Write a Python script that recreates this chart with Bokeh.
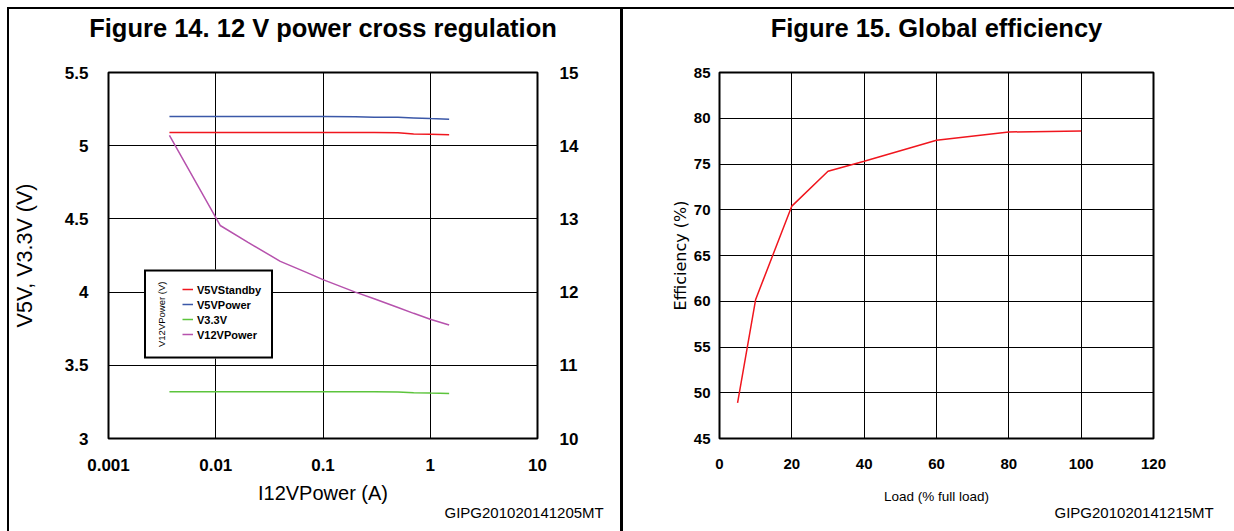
from bokeh.plotting import figure
from bokeh.models import (Range1d, LinearAxis, FixedTicker, NumeralTickFormatter,
                          Legend, LegendItem, Title, Div)
from bokeh.layouts import row, column
from bokeh.embed import file_html
from bokeh.resources import INLINE

# ---------------- data ----------------
i12_current = [0.0037, 0.011, 0.02, 0.04, 0.07, 0.1, 0.2, 0.3, 0.5, 0.7, 1.0, 1.5]
v5_standby = [5.09, 5.09, 5.09, 5.09, 5.09, 5.09, 5.09, 5.09, 5.088, 5.08, 5.078, 5.075]
v5_power = [5.20, 5.20, 5.20, 5.20, 5.20, 5.20, 5.198, 5.195, 5.195, 5.19, 5.185, 5.18]
v3_3 = [3.32, 3.32, 3.32, 3.32, 3.32, 3.32, 3.32, 3.32, 3.318, 3.312, 3.31, 3.308]
v12_power = [14.14, 12.91, 12.68, 12.42, 12.27, 12.17, 12.0, 11.91, 11.79, 11.71, 11.63, 11.55]

x_ticks_log = [0.001, 0.01, 0.1, 1, 10]
y_ticks_left = [3, 3.5, 4, 4.5, 5, 5.5]
y_ticks_right = [10, 11, 12, 13, 14, 15]

load_pct = [5, 10, 20, 30, 40, 60, 80, 100]
efficiency = [48.9, 60.2, 70.4, 74.2, 75.3, 77.6, 78.5, 78.6]
x_ticks_load = [0, 20, 40, 60, 80, 100, 120]
y_ticks_eff = [45, 50, 55, 60, 65, 70, 75, 80, 85]

title_14 = "Figure 14. 12 V power cross regulation"
title_15 = "Figure 15. Global efficiency"
code_14 = "GIPG201020141205MT"
code_15 = "GIPG201020141215MT"

FONT = "Liberation Sans"

C_RED = "#f0161e"
C_BLUE = "#3b58a8"
C_GREEN = "#5cc43c"
C_PURPLE = "#b652ad"

LINE_H = 522     # height of the vertical frame lines
CANVAS_H = 519   # height of each chart canvas


def style_common(p):
    p.outline_line_color = "black"
    p.outline_line_width = 2
    p.outline_line_alpha = 1
    p.background_fill_color = "white"
    p.border_fill_color = "white"
    for ax in p.axis:
        ax.axis_line_color = None
        ax.major_tick_line_color = None
        ax.minor_tick_line_color = None
        ax.major_label_text_color = "black"
        ax.axis_label_text_color = "black"
        ax.axis_label_text_font_style = "normal"
    for g in p.grid:
        g.grid_line_color = "black"
        g.grid_line_alpha = 1
        g.grid_line_width = 1


def add_texts(p, title, code, foot_offset):
    # chart title: label of an empty axis placed above the frame
    tax = LinearAxis(ticker=FixedTicker(ticks=[]), axis_label=title,
                     axis_line_color=None, major_tick_line_color=None,
                     minor_tick_line_color=None, major_tick_out=0, major_tick_in=0,
                     minor_tick_out=0, major_label_standoff=0,
                     axis_label_standoff=31, axis_label_text_font=FONT,
                     axis_label_text_font_style="bold", axis_label_text_font_size="25.5px",
                     axis_label_text_line_height=1.0,
                     axis_label_text_color="black")
    p.add_layout(tax, "above")
    foot = Title(text=code, align="left", offset=foot_offset, standoff=-10,
                 text_font=FONT, text_font_style="normal", text_font_size="15px",
                 text_color="black")
    p.add_layout(foot, "below")


def block(w, h, color=None):
    styles = {"background-color": color} if color else {}
    return Div(text="", width=w, height=h, margin=0, styles=styles)


# ---------------- Figure 14 ----------------
p1 = figure(width=611, height=CANVAS_H, x_axis_type="log",
            x_range=Range1d(0.001, 10), y_range=Range1d(3, 5.5),
            output_backend="svg", toolbar_location=None, tools="",
            min_border_left=95, min_border_right=83,
            min_border_top=63, min_border_bottom=90)
p1.extra_y_ranges = {"v12": Range1d(10, 15)}
right_axis = LinearAxis(y_range_name="v12", ticker=FixedTicker(ticks=y_ticks_right))
p1.add_layout(right_axis, "right")

p1.xaxis.ticker = FixedTicker(ticks=x_ticks_log)
p1.xaxis.formatter = NumeralTickFormatter(format="0.[000]")
p1.yaxis[0].ticker = FixedTicker(ticks=y_ticks_left)
p1.yaxis[0].formatter = NumeralTickFormatter(format="0.[0]")
p1.xgrid.ticker = FixedTicker(ticks=x_ticks_log)
p1.ygrid.ticker = FixedTicker(ticks=y_ticks_left)

style_common(p1)
for ax in p1.axis:
    ax.major_label_text_font = FONT
    ax.major_label_text_font_style = "bold"
    ax.major_label_text_font_size = "17px"
    ax.axis_label_text_font = FONT
    ax.axis_label_text_font_size = "20px"
p1.xaxis.major_label_standoff = 14
p1.xaxis.axis_label = "I12VPower (A)"
p1.xaxis.axis_label_standoff = 8
p1.yaxis[0].major_label_standoff = 14
p1.yaxis[0].axis_label = "V5V, V3.3V (V)"
p1.yaxis[0].axis_label_text_font_size = "21.5px"
p1.yaxis[0].axis_label_standoff = 25
right_axis.major_label_standoff = 16

r_sb = p1.line(i12_current, v5_standby, line_color=C_RED, line_width=1.5)
r_5p = p1.line(i12_current, v5_power, line_color=C_BLUE, line_width=1.5)
r_33 = p1.line(i12_current, v3_3, line_color=C_GREEN, line_width=1.5)
r_12 = p1.line(i12_current, v12_power, line_color=C_PURPLE, line_width=1.5, y_range_name="v12")

legend = Legend(items=[LegendItem(label="V5VStandby", renderers=[r_sb]),
                       LegendItem(label="V5VPower", renderers=[r_5p]),
                       LegendItem(label="V3.3V", renderers=[r_33]),
                       LegendItem(label="V12VPower", renderers=[r_12])],
                location=(36, 79), margin=0, padding=10, spacing=0,
                glyph_width=11, glyph_height=15, label_height=15, label_standoff=4,
                label_text_font=FONT, label_text_font_style="bold",
                label_text_font_size="11px", label_text_color="black",
                border_line_color="black", border_line_width=2.5, border_line_alpha=1,
                background_fill_alpha=1, background_fill_color="white")
legend.title = "V12VPower (V)"
legend.title_text_font = FONT
legend.title_text_font_style = "normal"
legend.title_text_font_size = "9.5px"
legend.title_text_color = "black"
if "title_location" in Legend.properties():
    legend.title_location = "left"
    legend.title_standoff = 15
p1.add_layout(legend, "center")
add_texts(p1, title_14, code_14, 336)

# ---------------- Figure 15 ----------------
p2 = figure(width=605, height=CANVAS_H,
            x_range=Range1d(0, 120), y_range=Range1d(45, 85),
            output_backend="svg", toolbar_location=None, tools="",
            min_border_left=96, min_border_right=75,
            min_border_top=63, min_border_bottom=90)
p2.xaxis.ticker = FixedTicker(ticks=x_ticks_load)
p2.yaxis.ticker = FixedTicker(ticks=y_ticks_eff)
p2.xgrid.ticker = FixedTicker(ticks=x_ticks_load)
p2.ygrid.ticker = FixedTicker(ticks=y_ticks_eff)
style_common(p2)
for ax in p2.axis:
    ax.major_label_text_font = FONT
    ax.major_label_text_font_style = "bold"
    ax.major_label_text_font_size = "15px"
p2.xaxis.major_label_standoff = 14
p2.yaxis.major_label_standoff = 3
p2.xaxis.axis_label = "Load (% full load)"
p2.xaxis.axis_label_text_font = FONT
p2.xaxis.axis_label_text_font_size = "13.5px"
p2.xaxis.axis_label_standoff = 17
p2.yaxis.axis_label = "Efficiency (%)"
p2.yaxis.axis_label_text_font = "DejaVu Sans"
p2.yaxis.axis_label_text_font_size = "16px"
p2.yaxis.axis_label_standoff = 1

p2.line(load_pct, efficiency, line_color=C_RED, line_width=1.5)
add_texts(p2, title_15, code_15, 335)

layout = column(
    block(1234, 7),
    row(block(7, 2), block(1227, 2, "black"), spacing=0),
    row(block(7, LINE_H), block(2, LINE_H, "black"), p1,
        block(3, LINE_H, "black"), p2, block(6, LINE_H), spacing=0),
    spacing=0)
open("out.html", "w").write(file_html(layout, INLINE))
